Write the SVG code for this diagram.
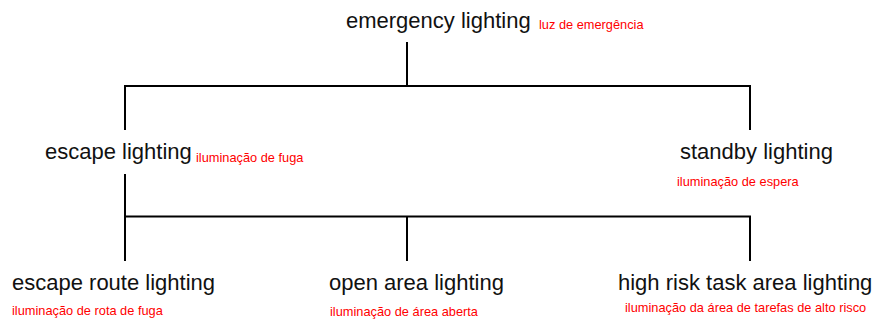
<svg xmlns="http://www.w3.org/2000/svg" width="873" height="322" viewBox="0 0 873 322">
<style>
.t{font-family:"Liberation Sans",Arial,sans-serif;font-size:22px;fill:#111}
.r{font-family:"Liberation Sans",Arial,sans-serif;font-size:12.8px;fill:#ff0000}
.c{stroke:#000;stroke-width:2;fill:none}
</style>
<rect width="873" height="322" fill="#fff"/>
<g id="connectors">
<path class="c" d="M407 42V86M125 130V86H750V130"/>
<path class="c" d="M125 174V261M125 216.5H750V261M407 216.5V261"/>
</g>
<g id="emergency"><text class="t" x="346" y="28">emergency lighting</text><text class="r" x="539" y="29">luz de emergência</text></g>
<g id="escape"><text class="t" x="45" y="159">escape lighting</text><text class="r" x="196" y="162">iluminação de fuga</text></g>
<g id="standby"><text class="t" x="680" y="159">standby lighting</text><text class="r" x="677" y="186">iluminação de espera</text></g>
<g id="escape-route"><text class="t" x="12" y="290">escape route lighting</text><text class="r" x="12" y="315">iluminação de rota de fuga</text></g>
<g id="open-area"><text class="t" x="329" y="290">open area lighting</text><text class="r" x="330" y="316">iluminação de área aberta</text></g>
<g id="high-risk"><text class="t" x="618" y="290">high risk task area lighting</text><text class="r" x="625" y="312">iluminação da área de tarefas de alto risco</text></g>
</svg>
